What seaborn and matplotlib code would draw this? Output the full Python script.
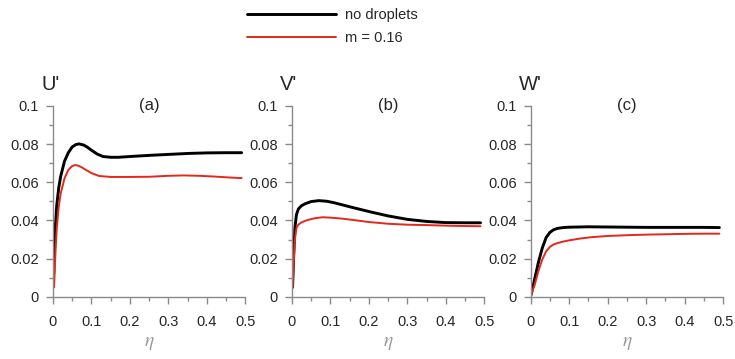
import numpy as np
import pandas as pd
import seaborn as sns
import matplotlib.pyplot as plt
from matplotlib.ticker import MultipleLocator

# (a) U'
u_x_black = [0.002, 0.006, 0.01, 0.015, 0.02, 0.03, 0.04, 0.05, 0.06, 0.068, 0.08, 0.09, 0.1, 0.115, 0.13, 0.15, 0.17, 0.2, 0.25, 0.3, 0.35, 0.4, 0.45, 0.49]
u_y_black = [0.012, 0.036, 0.048, 0.057, 0.063, 0.071, 0.0755, 0.0785, 0.0798, 0.0801, 0.0795, 0.0783, 0.0768, 0.0748, 0.0735, 0.0731, 0.0731, 0.0735, 0.0741, 0.0746, 0.0751, 0.0754, 0.0755, 0.0755]
u_x_red = [0.003, 0.007, 0.01, 0.015, 0.02, 0.03, 0.04, 0.05, 0.057, 0.065, 0.075, 0.09, 0.1, 0.12, 0.15, 0.2, 0.25, 0.3, 0.34, 0.38, 0.42, 0.46, 0.49]
u_y_red = [0.005, 0.025, 0.036, 0.047, 0.054, 0.062, 0.0665, 0.0685, 0.069, 0.0688, 0.0678, 0.066, 0.0648, 0.0633, 0.0628, 0.0628, 0.0629, 0.0634, 0.0636, 0.0634, 0.063, 0.0625, 0.0622]

# (b) V'
v_x_black = [0.002, 0.005, 0.008, 0.012, 0.017, 0.025, 0.035, 0.05, 0.07, 0.09, 0.11, 0.15, 0.2, 0.25, 0.3, 0.35, 0.4, 0.45, 0.49]
v_y_black = [0.005, 0.022, 0.036, 0.043, 0.046, 0.0477, 0.0488, 0.0499, 0.0504, 0.0501, 0.0493, 0.0472, 0.0447, 0.0424, 0.0406, 0.0395, 0.0389, 0.0388, 0.0388]
v_x_red = [0.002, 0.005, 0.008, 0.012, 0.017, 0.025, 0.04, 0.06, 0.08, 0.1, 0.13, 0.17, 0.2, 0.25, 0.3, 0.35, 0.4, 0.45, 0.49]
v_y_red = [0.005, 0.018, 0.03, 0.036, 0.0378, 0.039, 0.0402, 0.0412, 0.0417, 0.0415, 0.041, 0.04, 0.0392, 0.0383, 0.0378, 0.0376, 0.0373, 0.0371, 0.037]

# (c) W'
w_x_black = [0.001, 0.01, 0.02, 0.03, 0.04, 0.05, 0.06, 0.07, 0.085, 0.1, 0.15, 0.2, 0.25, 0.3, 0.35, 0.4, 0.45, 0.49]
w_y_black = [0.001, 0.009, 0.018, 0.0255, 0.031, 0.0338, 0.0352, 0.0359, 0.0363, 0.0365, 0.0367, 0.0366, 0.0365, 0.0364, 0.0364, 0.0364, 0.0364, 0.0363]
w_x_red = [0.001, 0.01, 0.02, 0.03, 0.04, 0.05, 0.06, 0.07, 0.085, 0.1, 0.13, 0.16, 0.2, 0.25, 0.3, 0.35, 0.4, 0.45, 0.49]
w_y_red = [0.001, 0.006, 0.0135, 0.0195, 0.0238, 0.0262, 0.0275, 0.0282, 0.029, 0.0296, 0.0306, 0.0313, 0.0319, 0.0323, 0.0326, 0.0328, 0.033, 0.0331, 0.0331]

series_names = ['no droplets', 'm = 0.16']
ylabels = ["U'", "V'", "W'"]
panel_tags = ['(a)', '(b)', '(c)']
x_ticks = [0, 0.1, 0.2, 0.3, 0.4, 0.5]
x_ticklabels = ['0', '0.1', '0.2', '0.3', '0.4', '0.5']
y_ticks = [0, 0.02, 0.04, 0.06, 0.08, 0.1]
y_ticklabels = ['0', '0.02', '0.04', '0.06', '0.08', '0.1']


def make_frame(xb, yb, xr, yr):
    black = pd.DataFrame({'eta': xb, 'val': yb, 'case': series_names[0]})
    red = pd.DataFrame({'eta': xr, 'val': yr, 'case': series_names[1]})
    return pd.concat([black, red], ignore_index=True)


frames = [make_frame(u_x_black, u_y_black, u_x_red, u_y_red),
          make_frame(v_x_black, v_y_black, v_x_red, v_y_red),
          make_frame(w_x_black, w_y_black, w_x_red, w_y_red)]

sns.set_style('ticks')
plt.rcParams['font.family'] = ['Liberation Sans', 'DejaVu Sans']
plt.rcParams['mathtext.fontset'] = 'stix'

palette = {series_names[0]: 'black', series_names[1]: '#e5271c'}
widths = {series_names[0]: 2.1, series_names[1]: 1.4}
axis_grey = '#8a8a8a'

fig = plt.figure(figsize=(7.35, 3.59), dpi=100)
lefts = [0.072, 0.397, 0.722]

for i, df in enumerate(frames):
    ax = fig.add_axes([lefts[i], 0.173, 0.262, 0.532])
    for name in series_names:
        sns.lineplot(data=df[df.case == name], x='eta', y='val', color=palette[name],
                     lw=widths[name], ax=ax, label=name, sort=False)
    ax.set_xlim(0, 0.5)
    ax.set_ylim(0, 0.1)
    ax.set_xticks(x_ticks, x_ticklabels)
    ax.set_yticks(y_ticks, y_ticklabels)
    ax.xaxis.set_minor_locator(MultipleLocator(0.05))
    ax.yaxis.set_minor_locator(MultipleLocator(0.01))
    ax.tick_params(which='major', length=5, width=1, color=axis_grey, labelsize=10.5)
    ax.tick_params(axis='x', which='major', pad=8)
    ax.tick_params(axis='y', which='major', pad=5)
    ax.tick_params(which='minor', length=3, width=1, color=axis_grey)
    for side in ['top', 'right']:
        ax.spines[side].set_visible(False)
    for side in ['left', 'bottom']:
        ax.spines[side].set_color(axis_grey)
        ax.spines[side].set_linewidth(1)
    ax.set_xlabel(r'$\eta$', color='#9a9a9a', fontsize=14, labelpad=4)
    ax.set_ylabel('')
    ax.text(-0.06, 1.11, ylabels[i], transform=ax.transAxes, fontsize=14.5, ha='left', va='center')
    ax.text(0.5, 1.0, panel_tags[i], transform=ax.transAxes, fontsize=12, ha='center', va='center')
    if i == 0:
        handles, labels = ax.get_legend_handles_labels()
    ax.get_legend().remove()

fig.legend(handles, labels, loc='upper left', bbox_to_anchor=(0.318, 1.015), frameon=False,
           fontsize=10.5, handlelength=6.1, handletextpad=0.65, labelspacing=0.65)

plt.savefig('out.png', dpi=100)
